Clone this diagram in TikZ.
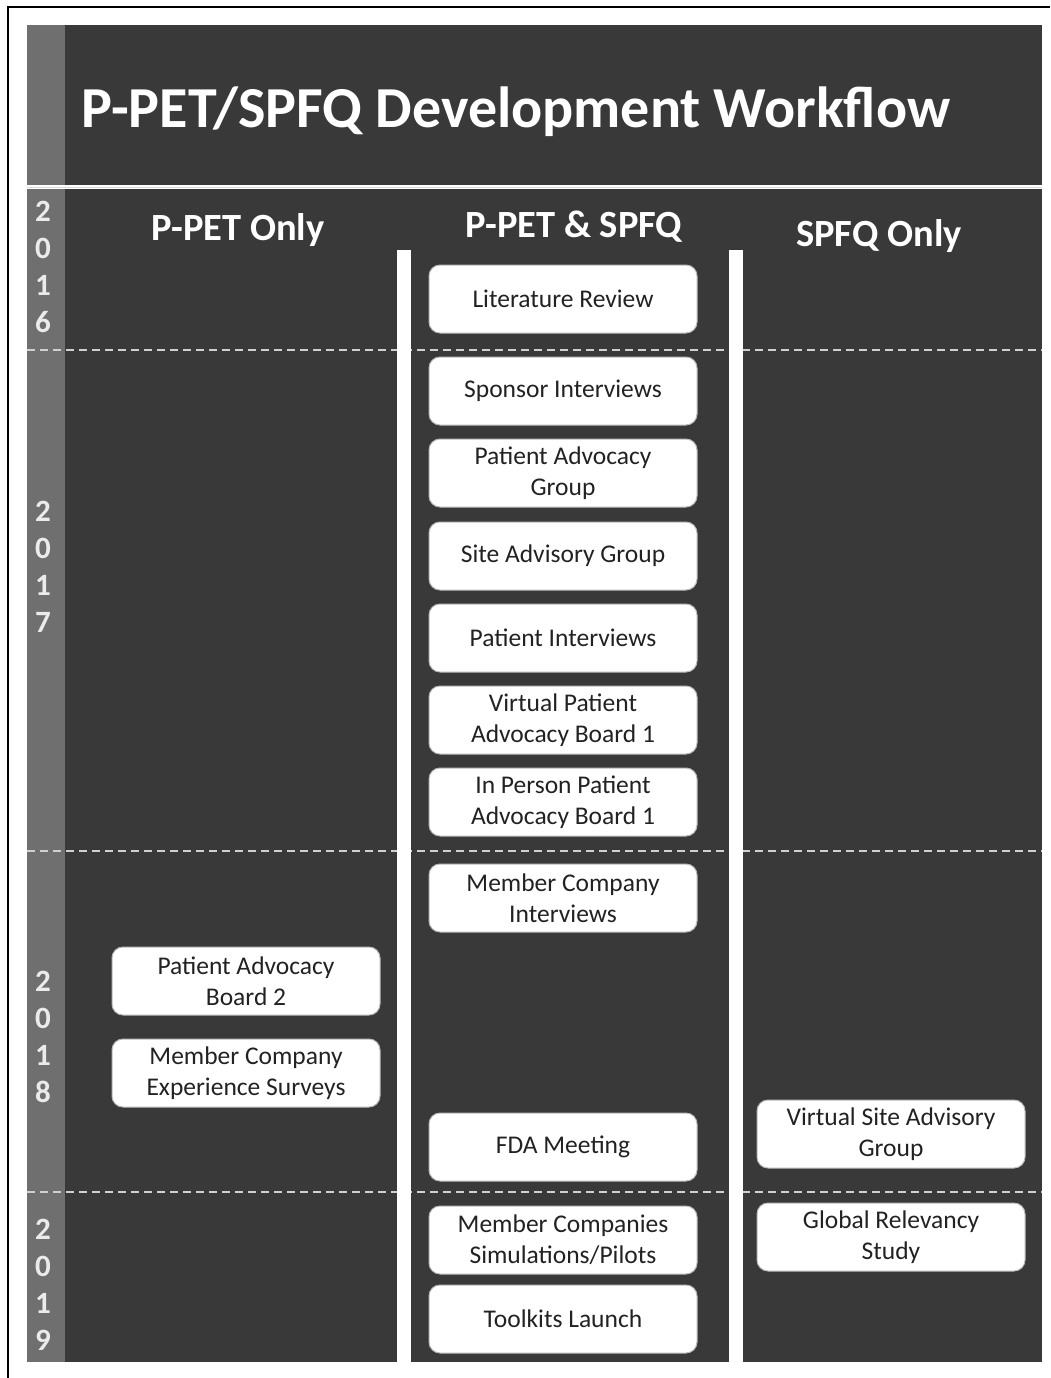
\documentclass[tikz,border=0pt]{standalone}
\usepackage{fontspec}
\setmainfont{Carlito}
\usepackage{tikz}
\usetikzlibrary{positioning}
\definecolor{panel}{HTML}{393939}
\definecolor{strip}{HTML}{6F6F6F}
\definecolor{dashgray}{HTML}{D0D0D0}
\definecolor{boxtext}{HTML}{222222}
\tikzset{event/.style={rectangle,rounded corners=11pt,fill=white,draw=gray!55,line width=1pt,
    minimum width=268pt,minimum height=68pt,inner sep=0pt,align=center,text=boxtext,
    font=\fontsize{25.5}{31}\selectfont}}

\begin{document}
\begin{tikzpicture}[x=1pt,y=-1pt]
\tikzset{colhead/.style={text=white,font=\bfseries\fontsize{38.5}{46}\selectfont,anchor=base},
    yearnum/.style={text=white!92!black,font=\bfseries\fontsize{31}{36}\selectfont},
    yearline/.style={draw=dashgray,line width=1.6pt,dash pattern=on 8pt off 5pt}}
\useasboundingbox[fill=white] (0,0) rectangle (1050,1378);
\draw[line width=1.5pt] (8,1378) -- (8,7) -- (1050,7);

% title band
\fill[panel] (27,25) rectangle (1042,185);
\fill[strip] (27,25) rectangle (65,185);
\node[text=white,font=\bfseries\fontsize{58}{70}\selectfont,anchor=base west] (title) at (78,128) {P-PET/SPFQ Development Workflow};
\draw[gray!30,line width=1pt] (27,187) -- (1042,187);

% columns
\fill[panel] (27,189) rectangle (1042,1362);
\fill[strip] (27,189) rectangle (65,1362);
\foreach \y in {350,851,1192}
  \draw[yearline] (27,\y) -- (1042,\y);
\fill[white] (397,250) rectangle (411,1363);
\fill[white] (729,250) rectangle (743,1363);

\node[colhead] (hleft) at (238,240) {P-PET Only};
\node[colhead] (hmid) at (574,237) {P-PET \& SPFQ};
\node[colhead] (hright) at (879,246) {SPFQ Only};

% years
\foreach \tag/\top/\last in {16/211/6,17/511/7,18/981/8,19/1229/9}
  \foreach \d [count=\i from 0] in {2,0,1,\last}
    \node[yearnum] (y\tag-\i) at (43,\top+37*\i) {\d};

% P-PET & SPFQ
\node[event] (lit) at (563,299) {Literature Review};
\node[event] (spons) at (563,391) {Sponsor Interviews};
\node[event] (pag) at (563,473) {Patient Advocacy\\Group};
\node[event] (sag) at (563,556) {Site Advisory Group};
\node[event] (pint) at (563,638) {Patient Interviews};
\node[event] (vpab) at (563,720) {Virtual Patient\\Advocacy Board 1};
\node[event] (ippab) at (563,802) {In Person Patient\\Advocacy Board 1};
\node[event] (mci) at (563,898) {Member Company\\Interviews};
\node[event] (fda) at (563,1147) {FDA Meeting};
\node[event] (mcsp) at (563,1240) {Member Companies\\Simulations/Pilots};
\node[event] (tkl) at (563,1319) {Toolkits Launch};

% P-PET only
\node[event] (pab2) at (246,981) {Patient Advocacy\\Board 2};
\node[event] (mces) at (246,1073) {Member Company\\Experience Surveys};

% SPFQ only
\node[event] (vsag) at (891,1134) {Virtual Site Advisory\\Group};
\node[event] (grs) at (891,1237) {Global Relevancy\\Study};
\end{tikzpicture}
\end{document}
